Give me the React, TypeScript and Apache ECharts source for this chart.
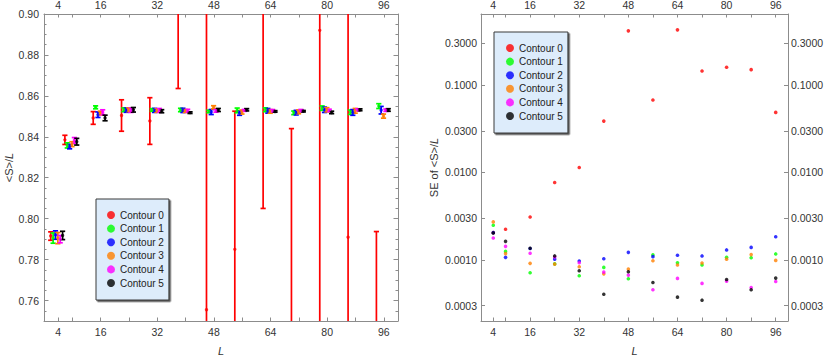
import React, { useEffect, useRef } from 'react';
import * as echarts from 'echarts';

// ---------- data ----------
const L_VALUES = [4, 8, 16, 24, 32, 40, 48, 56, 64, 72, 80, 88, 96];
const X_TICK_LABELS = [4, 16, 32, 48, 64, 80, 96];
const CONTOUR_NAMES = ['Contour 0', 'Contour 1', 'Contour 2', 'Contour 3', 'Contour 4', 'Contour 5'];

// <S>/L means
const MEAN_C0 = [0.7915, 0.8385, 0.8492, 0.8504, 0.8477, 0.9023, 0.7555, 0.785, 1.233, 0.699, 0.892, 0.7909, 0.745];
const MEAN_C1 = [0.7905, 0.8358, 0.8544, 0.8532, 0.8531, 0.8531, 0.8524, 0.8529, 0.8532, 0.8517, 0.8540, 0.8520, 0.8550];
const MEAN_C2 = [0.7920, 0.8352, 0.8508, 0.8530, 0.8529, 0.8529, 0.8521, 0.8516, 0.8527, 0.8518, 0.8532, 0.8519, 0.8530];
const MEAN_C3 = [0.7905, 0.8364, 0.8516, 0.8532, 0.8528, 0.8526, 0.8544, 0.8521, 0.8524, 0.8522, 0.8532, 0.8527, 0.8501];
const MEAN_C4 = [0.7900, 0.8382, 0.8520, 0.8530, 0.8529, 0.8527, 0.8527, 0.8529, 0.8527, 0.8528, 0.8529, 0.8532, 0.8530];
const MEAN_C5 = [0.7918, 0.8376, 0.8492, 0.8532, 0.8525, 0.8518, 0.8531, 0.8532, 0.8524, 0.8525, 0.8519, 0.8532, 0.8531];

// standard errors of <S>/L
const SE_C0 = [0.00205, 0.00224, 0.0031, 0.00768, 0.0114, 0.0387, 0.417, 0.0675, 0.428, 0.145, 0.160, 0.150, 0.0487];
const SE_C1 = [0.00249, 0.00125, 0.000712, 0.00090, 0.000658, 0.000821, 0.000608, 0.00114, 0.000929, 0.000873, 0.00107, 0.00106, 0.00117];
const SE_C2 = [0.00205, 0.00107, 0.00135, 0.00102, 0.00097, 0.00103, 0.00122, 0.00109, 0.00113, 0.00111, 0.0013, 0.00139, 0.00184];
const SE_C3 = [0.00272, 0.00118, 0.000913, 0.000896, 0.000836, 0.000693, 0.000785, 0.000977, 0.000873, 0.000921, 0.00102, 0.00115, 0.000986];
const SE_C4 = [0.00178, 0.00143, 0.00119, 0.00108, 0.000929, 0.000725, 0.00067, 0.000455, 0.000614, 0.000538, 0.000571, 0.000484, 0.000566];
const SE_C5 = [0.00203, 0.00163, 0.00136, 0.00111, 0.000752, 0.000405, 0.000731, 0.000552, 0.000375, 0.000346, 0.000597, 0.000455, 0.000619];

const MEAN_Y_TICK_LABELS = [0.76, 0.78, 0.8, 0.82, 0.84, 0.86, 0.88, 0.9];
const SE_Y_TICK_LABELS = [0.0003, 0.001, 0.003, 0.01, 0.03, 0.1, 0.3];

// ---------- styling ----------
const COLORS = ['#ff0000', '#00ff00', '#0000ff', '#ff8000', '#ff00ff', '#000000'];
const DODGE = [-2.1, -1.43, -0.76, -0.09, 0.58, 1.25];
const FONT = '"Liberation Sans", Arial, Helvetica, sans-serif';
const FRAME = '#8c8c8c';
const TXT = '#333';

const MEANS = [MEAN_C0, MEAN_C1, MEAN_C2, MEAN_C3, MEAN_C4, MEAN_C5];
const SES = [SE_C0, SE_C1, SE_C2, SE_C3, SE_C4, SE_C5];

const renderErrorBar = (params: any, api: any) => {
  const x = api.value(0);
  const y = api.value(1);
  const e = api.value(2);
  const pTop = api.coord([x, y + e]);
  const pBot = api.coord([x, y - e]);
  const cs = params.coordSys;
  const top = cs.y;
  const bottom = cs.y + cs.height;
  if (pBot[1] < top || pTop[1] > bottom) return null;
  const y1 = Math.max(pTop[1], top);
  const y2 = Math.min(pBot[1], bottom);
  const color = api.visual('color');
  const style = { stroke: color, lineWidth: 1.7 };
  const cap = 2.6;
  const children: any[] = [
    { type: 'line', shape: { x1: pTop[0], y1, x2: pTop[0], y2 }, style },
  ];
  if (pTop[1] >= top) {
    children.push({ type: 'line', shape: { x1: pTop[0] - cap, y1: pTop[1], x2: pTop[0] + cap, y2: pTop[1] }, style });
  }
  if (pBot[1] <= bottom) {
    children.push({ type: 'line', shape: { x1: pBot[0] - cap, y1: pBot[1], x2: pBot[0] + cap, y2: pBot[1] }, style });
  }
  return { type: 'group', children };
};

function buildOption() {
  const xTickValues = L_VALUES.slice();
  const minorMeanTicks: number[] = [];
  for (let k = 0; k <= 30; k++) minorMeanTicks.push(+(0.75 + 0.005 * k).toFixed(3));
  const seLogTicks = SE_Y_TICK_LABELS.map((v) => Math.log10(v));

  const labelBase = { fontSize: 10.5, color: TXT, fontFamily: FONT };
  const lineStyle = { color: FRAME, width: 1 };

  const xAxisCommon = (gridIndex: number, position: string, showLabel: boolean, name?: string) => ({
    type: 'value',
    gridIndex,
    position,
    min: 0,
    max: 100,
    splitLine: { show: false },
    axisLine: { show: true, onZero: false, lineStyle },
    axisTick: { show: true, inside: true, length: 3.5, customValues: xTickValues, lineStyle },
    axisLabel: {
      show: showLabel,
      customValues: X_TICK_LABELS,
      margin: position === 'top' ? 4 : 5,
      ...labelBase,
    },
    name: name || '',
    nameLocation: 'middle',
    nameGap: 24,
    nameTextStyle: { fontSize: 11, fontStyle: 'italic', color: TXT, fontFamily: FONT },
  });

  const meanY = (position: string, showLabel: boolean, major: boolean, name?: string) => ({
    type: 'value',
    gridIndex: 0,
    position,
    min: 0.75,
    max: 0.9,
    splitLine: { show: false },
    axisLine: { show: major, onZero: false, lineStyle },
    axisTick: {
      show: true,
      inside: true,
      length: major ? 4.5 : 2.5,
      customValues: major ? MEAN_Y_TICK_LABELS : minorMeanTicks,
      lineStyle,
    },
    axisLabel: {
      show: showLabel,
      customValues: MEAN_Y_TICK_LABELS,
      formatter: (v: number) => v.toFixed(2),
      margin: 5,
      ...labelBase,
    },
    name: name || '',
    nameLocation: 'middle',
    nameGap: 30,
    nameTextStyle: {
      color: TXT,
      fontFamily: FONT,
      fontSize: 11,
      rich: {
        n: { fontSize: 11, color: TXT, fontFamily: FONT },
        i: { fontSize: 11, color: TXT, fontFamily: FONT, fontStyle: 'italic' },
      },
    },
  });

  const seY = (position: string, name?: string) => ({
    type: 'value',
    gridIndex: 1,
    position,
    min: Math.log10(0.0002),
    max: Math.log10(0.65),
    splitLine: { show: false },
    axisLine: { show: true, onZero: false, lineStyle },
    axisTick: { show: true, inside: true, length: 4, customValues: seLogTicks, lineStyle },
    axisLabel: {
      show: true,
      customValues: seLogTicks,
      formatter: (v: number) => Math.pow(10, v).toFixed(4),
      margin: position === 'right' ? 3 : 4,
      ...labelBase,
    },
    name: name || '',
    nameLocation: 'middle',
    nameGap: 42,
    nameTextStyle: {
      color: TXT,
      fontFamily: FONT,
      fontSize: 11,
      rich: {
        n: { fontSize: 11, color: TXT, fontFamily: FONT },
        i: { fontSize: 11, color: TXT, fontFamily: FONT, fontStyle: 'italic' },
      },
    },
  });

  const series: any[] = [];
  for (let i = 0; i < 6; i++) {
    const errData = L_VALUES.map((l, j) => [l + DODGE[i], MEANS[i][j], SES[i][j]]);
    series.push({
      type: 'custom',
      name: CONTOUR_NAMES[i] + ' err',
      xAxisIndex: 0,
      yAxisIndex: 0,
      data: errData,
      dimensions: ['x', 'y', 'e'],
      encode: { x: 0, y: 1 },
      itemStyle: { color: COLORS[i] },
      renderItem: renderErrorBar,
      clip: true,
      silent: true,
    });
    series.push({
      type: 'scatter',
      name: CONTOUR_NAMES[i],
      xAxisIndex: 0,
      yAxisIndex: 0,
      data: L_VALUES.map((l, j) => [l + DODGE[i], MEANS[i][j]]),
      symbol: 'circle',
      symbolSize: 3.4,
      itemStyle: { color: COLORS[i] },
      clip: true,
      silent: true,
    });
  }
  for (let i = 0; i < 6; i++) {
    series.push({
      type: 'scatter',
      name: CONTOUR_NAMES[i],
      xAxisIndex: 2,
      yAxisIndex: 4,
      data: L_VALUES.map((l, j) => [l, Math.log10(SES[i][j])]),
      symbol: 'circle',
      symbolSize: 3.6,
      itemStyle: { color: COLORS[i] },
      clip: true,
      silent: true,
    });
  }

  const legendCommon = {
    orient: 'vertical',
    selectedMode: false,
    data: CONTOUR_NAMES.map((n) => ({ name: n, icon: 'circle' })),
    itemWidth: 8,
    itemHeight: 8,
    itemGap: 1.6,
    backgroundColor: '#ddecfb',
    borderColor: '#3a3a3a',
    borderWidth: 1,
    shadowColor: '#555',
    shadowBlur: 0,
    shadowOffsetX: 1.5,
    shadowOffsetY: 1.5,
    textStyle: { fontSize: 10, color: '#222', fontFamily: FONT, lineHeight: 12 },
  };

  return {
    animation: false,
    backgroundColor: '#ffffff',
    grid: [
      { left: 44, top: 14, width: 354, height: 307, containLabel: false, outerBoundsMode: 'none' },
      { left: 481, top: 14, width: 307, height: 307, containLabel: false, outerBoundsMode: 'none' },
    ],
    xAxis: [
      xAxisCommon(0, 'bottom', true, 'L'),
      xAxisCommon(0, 'top', true),
      xAxisCommon(1, 'bottom', true, 'L'),
      xAxisCommon(1, 'top', true),
    ],
    yAxis: [
      meanY('left', true, true, '{n|<S>/}{i|L}'),
      meanY('right', false, true),
      meanY('left', false, false),
      meanY('right', false, false),
      seY('left', '{n|SE of <S>/}{i|L}'),
      seY('right'),
    ],
    legend: [
      { ...legendCommon, left: 96, top: 199, padding: [10, 5, 11, 11] },
      { ...legendCommon, left: 494, top: 32, padding: [10, 5, 11, 12] },
    ],
    series,
  };
}

export default function App() {
  const ref = useRef<HTMLDivElement>(null);
  useEffect(() => {
    if (!ref.current) return;
    const chart = echarts.init(ref.current, undefined, { renderer: 'svg' });
    chart.setOption(buildOption() as any);
    return () => chart.dispose();
  }, []);
  return (
    <div
      ref={ref}
      style={{ position: 'absolute', left: 0, top: 0, width: 824, height: 357, background: '#fff' }}
    />
  );
}
